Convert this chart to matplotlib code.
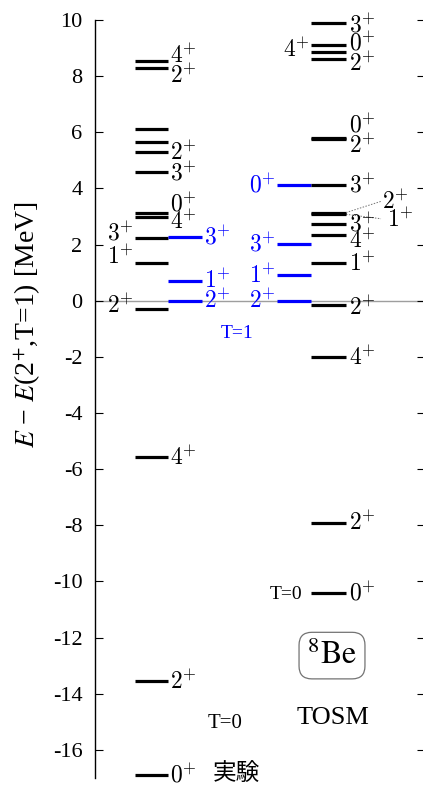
import numpy as np
import matplotlib
matplotlib.use("Agg")
import matplotlib.pyplot as plt

plt.rcParams['font.family'] = ['Liberation Serif', 'Noto Sans CJK JP']
plt.rcParams['mathtext.fontset'] = 'cm'
plt.rcParams['axes.unicode_minus'] = False

# experiment, T=0 (black)
exp_E = [-16.88, -13.56, -5.57, -0.28, 1.33, 2.22, 2.98, 3.12, 4.57, 5.30, 5.67, 6.12, 8.28, 8.53]
exp_J = ['0', '2', '4', '2', '1', '3', '4', '0', '3', '2', '', '', '2', '4']
# experiment, T=1 (blue)
exp1_E = [0.0, 0.72, 2.28]
exp1_J = ['2', '1', '3']
# TOSM, T=1 (blue)
tosm1_E = [0.0, 0.91, 2.02, 4.13]
tosm1_J = ['2', '1', '3', '0']
# TOSM, T=0 (black)
tosm_E = [-10.4, -7.9, -2.0, -0.15, 1.33, 2.33, 2.72, 3.08, 3.14, 4.13, 5.75, 5.80, 8.60, 8.86, 9.10, 9.90]
tosm_J = ['0', '2', '4', '2', '1', '4', '3', '1', '2', '3', '2', '0', '2', '4', '0', '3']

yticks = np.arange(-16, 11, 2)

# label placement (side, shift in MeV)
exp_side = ['r', 'r', 'r', 'l', 'l', 'l', 'r', 'r', 'r', 'r', 'r', 'r', 'r', 'r']
exp_dy = [0, 0, 0, 0.12, 0.24, 0.21, -0.14, 0.34, 0, 0, 0, 0, -0.26, 0.2]
tosm_side = ['r', 'r', 'r', 'r', 'r', 'r', 'r', 'f', 'f', 'r', 'r', 'r', 'r', 'l', 'r', 'r']
tosm_dy = [0, 0, 0, -0.1, 0, -0.19, 0.02, -0.16, 0.4, 0, -0.22, 0.47, -0.15, 0.09, 0.08, -0.06]

fig = plt.figure(figsize=(4.23, 7.87), dpi=100)
ax = fig.add_axes([95 / 423, 1 - 778 / 787, 1 - 95 / 423, 758 / 787])
ax.set_xlim(0, 328)
ax.set_ylim(-17, 10)

lw = 2.3
fs = 17
base = 0.27  # digit half height in MeV, to centre digits on the level


def label(x, y, j, ha, color):
    ax.text(x, y - base, '$' + j + '^{+}$', ha=ha, va='baseline', fontsize=fs, color=color)


ax.axhline(0, color='0.62', lw=1, zorder=0)

# experiment
for e, j, s, d in zip(exp_E, exp_J, exp_side, exp_dy):
    ax.hlines(e, 40, 73, color='k', lw=lw)
    if j:
        if s == 'r':
            label(75, e + d, j, 'left', 'k')
        else:
            label(39, e + d, j, 'right', 'k')
for e, j in zip(exp1_E, exp1_J):
    ax.hlines(e, 73, 107, color='blue', lw=lw)
    label(109, e, j, 'left', 'blue')

# TOSM
for e, j in zip(tosm1_E, tosm1_J):
    ax.hlines(e, 182, 216, color='blue', lw=lw)
    label(181, e, j, 'right', 'blue')
for e, j, s, d in zip(tosm_E, tosm_J, tosm_side, tosm_dy):
    ax.hlines(e, 216, 251, color='k', lw=lw)
    if s == 'r':
        label(254, e + d, j, 'left', 'k')
    elif s == 'l':
        label(215, e + d, j, 'right', 'k')
    else:
        ax.plot([251, 286], [e, e + d], ls=(0, (1.5, 1.5)), color='0.45', lw=0.7)
        label(287 + (5 if j == '1' else 0), e + d, j, 'left', 'k')

ax.text(142, -1.15, 'T=1', color='blue', fontsize=14, ha='center', va='center')
ax.text(130, -15.05, 'T=0', fontsize=15, ha='center', va='center')
ax.text(191, -10.45, 'T=0', fontsize=14, ha='center', va='center')
ax.text(118, -16.85, '実験', fontsize=17, ha='left', va='center', family='Noto Sans CJK JP')
ax.text(238, -14.85, 'TOSM', fontsize=19, ha='center', va='center')
ax.text(237, -12.64, r'$^{8}\mathrm{Be}$', fontsize=23, ha='center', va='center',
        math_fontfamily='stix',
        bbox=dict(boxstyle='round,pad=0.25,rounding_size=0.4', fc='white', ec='0.45', lw=0.9))

ax.set_yticks(yticks)
ax.set_yticklabels([str(v) for v in yticks])
ax.set_xticks([])
for s in ['top', 'bottom', 'right']:
    ax.spines[s].set_visible(False)
ax.spines['left'].set_linewidth(1)
ax.tick_params(axis='y', direction='in', length=6, width=0.8, labelsize=16, pad=9, right=True)
for t in ax.yaxis.get_ticklines()[1::2]:
    t.set_markersize(4)

fig.text(28 / 423, 1 - 325 / 787, r'$E$ − $E$(2$^{+}$,T=1) [MeV]', rotation=90,
         fontsize=20, ha='center', va='center', math_fontfamily='stix')

fig.savefig('out.png', dpi=100)
